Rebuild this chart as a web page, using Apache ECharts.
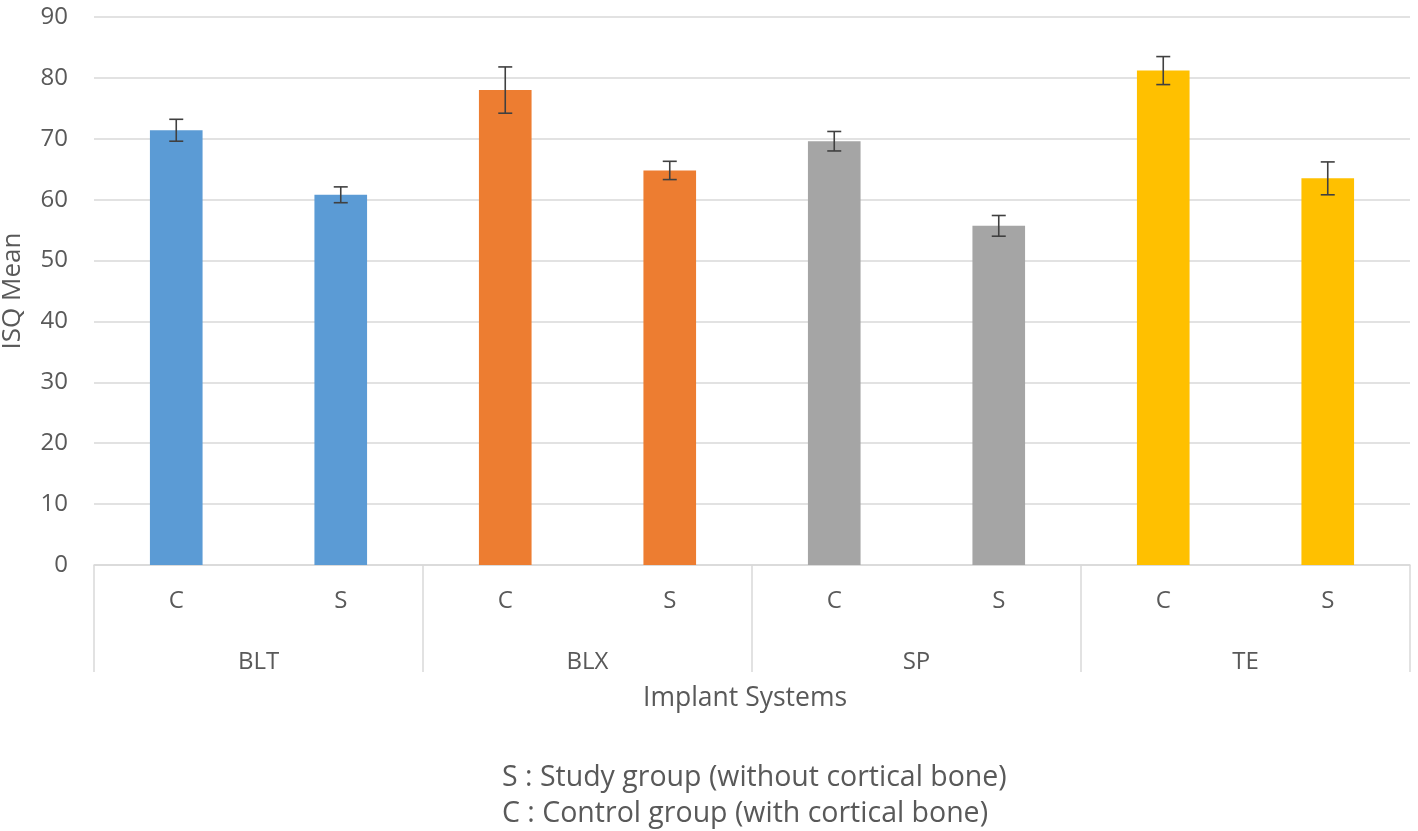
<!DOCTYPE html>
<html>
<head>
<meta charset="utf-8">
<script src="https://cdn.jsdelivr.net/npm/echarts@6/dist/echarts.min.js"></script>
<style>
html,body{margin:0;padding:0;background:#fff;}
#chart{width:1418px;height:831px;}
</style>
</head>
<body>
<div id="chart"></div>
<script>
const categories = ['C', 'S', 'C', 'S', 'C', 'S', 'C', 'S'];
const groups = ['BLT', 'BLX', 'SP', 'TE'];
const means = [71.4, 60.8, 78.0, 64.8, 69.6, 55.7, 81.2, 63.5];
const errors = [1.8, 1.3, 3.8, 1.5, 1.6, 1.7, 2.3, 2.7];
const groupColors = ['#5B9BD5', '#ED7D31', '#A5A5A5', '#FFC000'];
const yTicks = [0, 10, 20, 30, 40, 50, 60, 70, 80, 90];
const footnotes = ['S : Study group (without cortical bone)', 'C : Control group (with cortical bone)'];

const textColor = '#595959';
const font = '"Open Sans", sans-serif';

const chart = echarts.init(document.getElementById('chart'));

const barData = means.map((v, i) => ({
  value: v,
  itemStyle: { color: groupColors[Math.floor(i / 2)] }
}));
const errData = means.map((v, i) => [i, v - errors[i], v + errors[i]]);

chart.setOption({
  animation: false,
  backgroundColor: '#ffffff',
  textStyle: { fontFamily: font },
  grid: { left: 94, right: 8, top: 17, bottom: 266, containLabel: false, outerBoundsMode: 'none' },
  xAxis: [
    {
      type: 'category',
      data: categories,
      position: 'bottom',
      axisLine: { show: true, lineStyle: { color: '#d9d9d9', width: 1.5 } },
      axisTick: { show: false },
      axisLabel: { color: textColor, fontSize: 24, fontFamily: font, margin: 24 }
    },
    {
      type: 'category',
      data: groups,
      position: 'bottom',
      axisLine: { show: false },
      axisTick: { show: true, length: 107, interval: 0, lineStyle: { color: '#d9d9d9', width: 1.5 } },
      axisLabel: { color: textColor, fontSize: 24, fontFamily: font, margin: 85 }
    }
  ],
  yAxis: {
    type: 'value',
    min: yTicks[0],
    max: yTicks[yTicks.length - 1],
    interval: 10,
    name: 'ISQ Mean',
    nameLocation: 'middle',
    nameGap: 68,
    nameRotate: 90,
    nameTextStyle: { color: textColor, fontSize: 26, fontFamily: font },
    axisLine: { show: false },
    axisTick: { show: false },
    axisLabel: { color: textColor, fontSize: 24, fontFamily: font, margin: 26 },
    splitLine: { lineStyle: { color: '#d9d9d9', width: 1.5 } }
  },
  series: [
    {
      type: 'bar',
      data: barData,
      barWidth: '32%',
      xAxisIndex: 0
    },
    {
      type: 'custom',
      xAxisIndex: 0,
      data: errData,
      z: 10,
      renderItem: function (params, api) {
        const x = api.value(0);
        const lo = api.coord([x, api.value(1)]);
        const hi = api.coord([x, api.value(2)]);
        const hw = 7;
        const style = { stroke: '#404040', lineWidth: 1.6 };
        return {
          type: 'group',
          children: [
            { type: 'line', shape: { x1: hi[0], y1: hi[1], x2: lo[0], y2: lo[1] }, style: style },
            { type: 'line', shape: { x1: hi[0] - hw, y1: hi[1], x2: hi[0] + hw, y2: hi[1] }, style: style },
            { type: 'line', shape: { x1: lo[0] - hw, y1: lo[1], x2: lo[0] + hw, y2: lo[1] }, style: style }
          ]
        };
      }
    }
  ],
  graphic: [
    {
      type: 'text', left: 643, top: 685,
      style: { text: 'Implant Systems', fill: textColor, font: '26.5px ' + font }
    },
    {
      type: 'text', left: 502, top: 763,
      style: { text: footnotes[0], fill: textColor, font: '28.5px ' + font }
    },
    {
      type: 'text', left: 502, top: 799,
      style: { text: footnotes[1], fill: textColor, font: '28.5px ' + font }
    }
  ]
});
</script>
</body>
</html>
